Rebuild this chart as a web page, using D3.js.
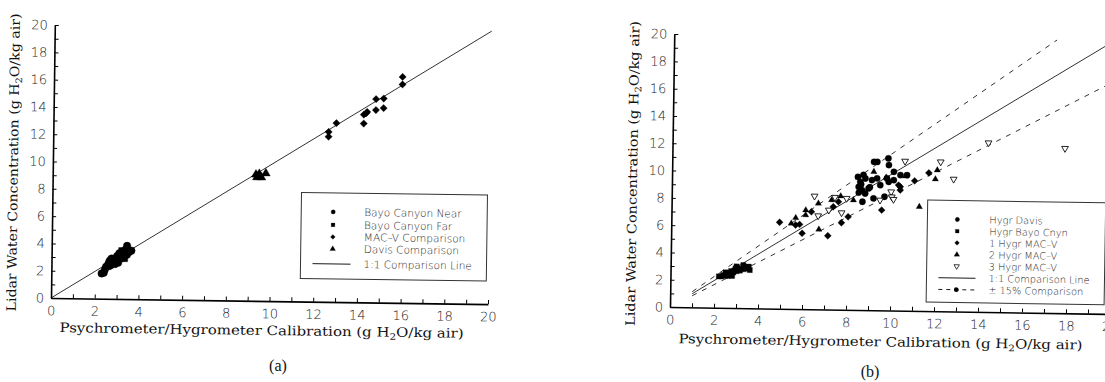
<!DOCTYPE html>
<html lang="en">
<head>
<meta charset="UTF-8">
<title>Lidar vs psychrometer/hygrometer water concentration</title>
<script src="https://d3js.org/d3.v7.min.js"></script>
<style>
  body { margin: 0; background: #fff; }
  svg { display: block; }
  .tick text { font-family: "DejaVu Sans", sans-serif; font-weight: 200; font-size: 13px; fill: #222; }
  .axis path.domain { stroke: #000; stroke-width: 1.6; }
  .axis .tick line { stroke: #000; stroke-width: 1; }
  .title { font-family: "DejaVu Serif", serif; font-size: 13px; fill: #111; }
  .legend text { font-family: "DejaVu Sans", sans-serif; font-weight: 200; font-size: 10.5px; fill: #222; }
  .legend.small text { font-size: 9.8px; }
  .caption { font-family: "Liberation Serif", serif; font-size: 16px; fill: #111; }
</style>
</head>
<body>
<svg id="chart" width="1105" height="382"></svg>
<script>
// ---- data ----
const tickValues = d3.range(0, 21, 1);   // minor ticks every unit, labels every 2

// panel (a)
const aNear = [[2.3,1.85],[2.4,1.9],[2.45,2.15],[2.5,2.35],[2.6,2.55],[2.65,2.75],[2.7,2.45],[2.8,2.65],
               [2.75,2.95],[2.9,2.55],[2.95,2.85],[3.0,3.15],[3.05,2.65],[3.1,3.35],[3.15,2.95],[3.2,3.25],
               [3.3,3.05],[3.3,3.45],[3.4,3.65],[3.45,3.25],[3.45,3.9],[3.55,3.45],[3.65,3.55],[2.85,2.8],[3.25,3.5]];
const aFar = [[2.6,2.35],[2.7,2.85],[2.9,2.95],[3.0,2.75],[3.1,3.05],[3.2,3.55],[3.4,3.35],[3.5,3.55],[2.8,2.55],[3.35,2.95]];
const aMacv = [[12.6,12.45],[12.6,12.1],[12.95,13.1],[14.2,13.75],[14.3,13.85],[14.35,13.95],[14.2,13.1],
               [14.75,14.9],[14.75,14.1],[15.1,14.95],[15.1,14.25],[15.95,16.55],[15.95,16.0]];
const aDavis = [[9.3,9.25],[9.45,9.3],[9.35,9.05],[9.55,9.05],[9.4,9.1],[9.75,9.35]];
const aOneToOne = [[0,0],[20,20]];
const aLegend = ["Bayo Canyon Near", "Bayo Canyon Far", "MAC\u2013V Comparison", "Davis Comparison", "1:1 Comparison Line"];

// panel (b)
const bDavis = [[8.45,9.75],[8.49,9.02],[8.56,9.39],[8.64,8.78],[8.67,7.93],[8.79,9.64],[8.79,8.54],[8.94,8.92],
                [9.09,9.53],[9.17,10.87],[9.32,10.87],[9.17,8.19],[9.32,9.66],[9.47,9.17],[9.82,11.14],[9.85,10.65],
                [9.85,9.42],[9.67,8.32],[10.08,10.16],[10.08,9.55],[10.38,9.93],[10.68,9.93],[9.77,9.67],
                [8.7,9.9],[9.0,9.0],[8.5,8.6],[8.6,9.2]];
const bBayo = [[2.2,2.3],[2.3,2.3],[2.4,2.4],[2.5,2.35],[2.6,2.5],[2.7,2.55],[2.75,2.7],[2.85,2.6],[2.9,2.75],
               [3.0,2.7],[3.05,2.85],[3.15,2.75],[3.2,2.9],[3.3,2.85],[3.4,2.95],[3.5,2.9],[3.55,3.05],[2.6,2.35],
               [2.95,2.9],[3.35,3.05],[2.8,2.35],[3.0,3.05],[3.3,3.15],[3.6,2.8],[2.5,2.6]];
const bMacv1 = [[4.92,6.33],[5.65,6.15],[5.83,6.2],[5.95,5.55],[6.36,7.14],[7.12,5.4],[7.35,7.53],[7.58,7.9],
                [7.73,6.37],[8.03,6.81],[9.55,7.34],[10.38,9.07],[10.38,8.83],[11.03,9.52],[11.67,10.12],[10.3,9.19]];
const bMacv2 = [[5.65,6.68],[5.45,6.26],[6.1,7.25],[6.1,6.89],[6.67,7.76],[6.71,5.85],[7.27,8.02],[7.68,8.32],
                [8.26,8.04],[9.17,10.14],[9.73,9.74],[10.6,9.85],[11.26,7.63],[12.05,10.33],[11.97,9.67]];
const bMacv3 = [[6.49,8.29],[6.67,6.85],[7.15,7.28],[7.42,8.22],[7.73,7.1],[7.95,8.16],[9.47,8.07],[9.97,8.69],
                [10.0,8.32],[10.58,10.95],[12.2,10.94],[12.8,9.69],[14.36,12.39],[17.84,12.07],[10.08,8.14]];
const bOneToOne = [[1,1],[20,20]];
const bUpper = [[1,1.15],[17.4,20]];
const bLower = [[1,0.85],[20,17]];
const bLegend = ["Hygr Davis", "Hygr Bayo Cnyn", "1 Hygr MAC\u2013V", "2 Hygr MAC\u2013V", "3 Hygr MAC\u2013V",
                 "1:1 Comparison Line", "\u00b1 15% Comparison"];

const svg = d3.select("#chart");

// marker styles
const sym = {
  circle:  { path: d3.symbol(d3.symbolCircle, 26)(),   rot: 0,   fill: "#000" },
  square:  { path: d3.symbol(d3.symbolSquare, 24)(),   rot: 0,   fill: "#000" },
  diamond: { path: d3.symbol(d3.symbolSquare, 20)(),   rot: 45,  fill: "#000" },
  tri:     { path: d3.symbol(d3.symbolTriangle, 24)(), rot: 0,   fill: "#000" },
  triOpen: { path: d3.symbol(d3.symbolTriangle, 22)(), rot: 180, fill: "#fff" }
};

function drawPoints(g, data, x, y, s, scale = 1) {
  g.append("g").selectAll("path")
    .data(data)
    .join("path")
    .attr("d", sym[s].path)
    .attr("transform", d => `translate(${x(d[0])},${y(d[1])}) rotate(${sym[s].rot}) scale(${scale})`)
    .attr("fill", sym[s].fill)
    .attr("stroke", "#000")
    .attr("stroke-width", s === "triOpen" ? 0.9 : 0.3);
}

function drawAxes(g, x, y) {
  const fmt = d => d % 2 === 0 ? d : "";
  g.append("g").attr("class", "axis")
    .attr("transform", `translate(0,${y(0)})`)
    .call(d3.axisBottom(x).tickValues(tickValues).tickSize(-4).tickSizeOuter(0).tickPadding(8).tickFormat(fmt));
  g.append("g").attr("class", "axis")
    .attr("transform", `translate(${x(0)},0)`)
    .call(d3.axisLeft(y).tickValues(tickValues).tickSize(-4).tickSizeOuter(0).tickPadding(7).tickFormat(fmt));
}

function h2oTitle(g, before, px, py, len, vertical) {
  const t = g.append("text").attr("class", "title")
    .attr("text-anchor", "middle")
    .attr("textLength", len).attr("lengthAdjust", "spacingAndGlyphs");
  if (vertical) t.attr("transform", `translate(${px},${py}) rotate(-90)`);
  else t.attr("x", px).attr("y", py);
  t.append("tspan").text(before + " (g H");
  t.append("tspan").attr("dy", 3).attr("font-size", 9).text("2");
  t.append("tspan").attr("dy", -3).text("O/kg air)");
}

function drawLegend(g, box, labels, entries) {
  const lg = g.append("g").attr("class", box.small ? "legend small" : "legend");
  lg.append("rect")
    .attr("x", box.x).attr("y", box.y).attr("width", box.w).attr("height", box.h)
    .attr("fill", "#fff").attr("stroke", "#333").attr("stroke-width", 1);
  labels.forEach((lab, i) => {
    const yy = box.rows[i];
    const e = entries[i];
    if (e.line) {
      lg.append("line")
        .attr("x1", box.lx0).attr("x2", box.lx1).attr("y1", yy).attr("y2", yy)
        .attr("stroke", "#000").attr("stroke-width", 0.9)
        .attr("stroke-dasharray", e.line === "dash" ? "4,4" : null);
      if (e.marker) {
        lg.append("circle").attr("cx", box.sx).attr("cy", yy).attr("r", 2.4).attr("fill", "#000");
      }
    } else {
      lg.append("path")
        .attr("d", sym[e.sym].path)
        .attr("transform", `translate(${box.sx},${yy}) rotate(${sym[e.sym].rot}) scale(0.75)`)
        .attr("fill", sym[e.sym].fill).attr("stroke", "#000")
        .attr("stroke-width", e.sym === "triOpen" ? 1 : 0.3);
    }
    lg.append("text").attr("x", box.tx).attr("y", yy).attr("dy", "0.35em").text(lab);
  });
}

const line = (x, y) => d3.line().x(d => x(d[0])).y(d => y(d[1]));

// ---------------- panel (a) ----------------
const xA = d3.scaleLinear([0, 20], [51, 488]);
const yA = d3.scaleLinear([0, 20], [298, 25]);
const gA = svg.append("g").attr("transform", `rotate(0.8, ${xA(0)}, ${yA(0)})`);

drawAxes(gA, xA, yA);
gA.append("path").datum(aOneToOne).attr("d", line(xA, yA)).attr("fill", "none")
  .attr("stroke", "#000").attr("stroke-width", 0.8);
drawPoints(gA, aNear, xA, yA, "circle", 1.3);
drawPoints(gA, aFar, xA, yA, "square", 1.2);
drawPoints(gA, aDavis, xA, yA, "tri", 1.2);
drawPoints(gA, aMacv, xA, yA, "diamond", 1.15);
h2oTitle(gA, "Psychrometer/Hygrometer Calibration", 262, 332, 404, false);
h2oTitle(gA, "Lidar Water Concentration", 16, 163, 298, true);
drawLegend(gA,
  { x: 300, y: 189, w: 186, h: 86, sx: 332, tx: 363, lx0: 312, lx1: 350, rows: [208, 221, 233, 245, 260] },
  aLegend,
  [{ sym: "circle" }, { sym: "square" }, { sym: "diamond" }, { sym: "tri" }, { line: "solid" }]);

// ---------------- panel (b) ----------------
const xB = d3.scaleLinear([0, 20], [670, 1110]);
const yB = d3.scaleLinear([0, 20], [307, 34]);
const gB = svg.append("g").attr("transform", `rotate(0.9, ${xB(0)}, ${yB(0)})`);

drawAxes(gB, xB, yB);
gB.append("path").datum(bOneToOne).attr("d", line(xB, yB)).attr("fill", "none")
  .attr("stroke", "#000").attr("stroke-width", 0.8);
[bUpper, bLower].forEach(l => {
  gB.append("path").datum(l).attr("d", line(xB, yB)).attr("fill", "none")
    .attr("stroke", "#000").attr("stroke-width", 0.8).attr("stroke-dasharray", "5,6");
});
drawPoints(gB, bBayo, xB, yB, "square", 1.05);
drawPoints(gB, bDavis, xB, yB, "circle", 1.1);
drawPoints(gB, bMacv1, xB, yB, "diamond", 1.1);
drawPoints(gB, bMacv2, xB, yB, "tri", 0.85);
drawPoints(gB, bMacv3, xB, yB, "triOpen", 0.95);
h2oTitle(gB, "Psychrometer/Hygrometer Calibration", 881, 343, 404, false);
h2oTitle(gB, "Lidar Water Concentration", 635, 174, 305, true);
drawLegend(gB,
  { x: 926, y: 196, w: 178, h: 102, sx: 956, tx: 988, lx0: 938, lx1: 975, small: true,
    rows: [215, 226.7, 238.4, 250.1, 261.8, 273.5, 285.2] },
  bLegend,
  [{ sym: "circle" }, { sym: "square" }, { sym: "diamond" }, { sym: "tri" }, { sym: "triOpen" },
   { line: "solid" }, { line: "dash", marker: true }]);

// captions
svg.append("text").attr("class", "caption").attr("x", 278).attr("y", 371).attr("text-anchor", "middle").text("(a)");
svg.append("text").attr("class", "caption").attr("x", 870).attr("y", 377).attr("text-anchor", "middle").text("(b)");
</script>
</body>
</html>
